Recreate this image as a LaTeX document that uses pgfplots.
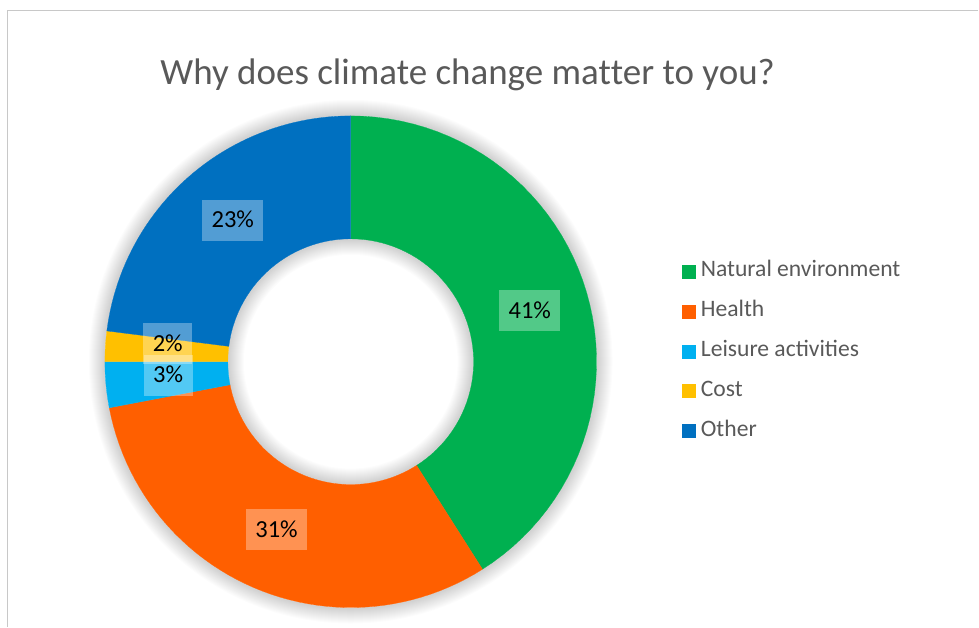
\documentclass[border=0pt]{standalone}
\usepackage{pgfplots}
\pgfplotsset{compat=1.18}
\usepackage{fontspec}
\setmainfont{Carlito}
\newcommand\nl{\kern0pt }
\definecolor{cgreen}{HTML}{00B050}
\definecolor{corange}{HTML}{FF5F00}
\definecolor{clblue}{HTML}{00B0F0}
\definecolor{cyellow}{HTML}{FFC000}
\definecolor{cblue}{HTML}{0070C0}
\definecolor{tgray}{HTML}{595959}
\definecolor{framegray}{HTML}{C8C8C8}

\def\cx{351}\def\cy{265}\def\Ro{246}\def\Ri{123}

% #1 = cumulative share before this slice (%), #2 = share (%), #3 = colour
\newcommand\donutslice[3]{%
 \addplot[fill=#3, draw=#3, line width=0.3pt, samples at={0,...,102}, variable=\t, forget plot]
 ({\cx+((\t<=50)||(\t==102) ? \Ro : \Ri)*cos(((\t<=50) ? 90-3.6*(#1+#2*\t/50) : ((\t==102) ? 90-3.6*#1 : 90-3.6*(#1+#2*(101-\t)/50))))},
  {\cy+((\t<=50)||(\t==102) ? \Ro : \Ri)*sin(((\t<=50) ? 90-3.6*(#1+#2*\t/50) : ((\t==102) ? 90-3.6*#1 : 90-3.6*(#1+#2*(101-\t)/50))))});
}
% #1 cumulative, #2 share, #3 dx, #4 dy
\newcommand\donutlabel[4]{%
 \node[fill=white, fill opacity=0.32, text opacity=1, inner xsep=9.5pt, inner ysep=0pt,
   minimum height=41pt, text height=15.5pt, text depth=0pt, font=\fontsize{24.5}{28}\selectfont]
   at (axis cs:{\cx+184.5*cos(90-3.6*(#1+#2/2))+#3},{\cy+184.5*sin(90-3.6*(#1+#2/2))+#4}) {#2\%};
}
\newcommand\legsq[1]{\addlegendimage{legend image code/.code={\fill[#1] (0pt,-6.5pt) rectangle (13pt,6.5pt);}}}

\begin{document}
\begin{tikzpicture}
\begin{axis}[
  width=979pt, height=627pt, scale only axis,
  xmin=0, xmax=979, ymin=0, ymax=627, enlargelimits=false,
  hide axis, clip=false,
  legend style={draw=none, fill=none, inner sep=0pt, outer sep=0pt,
    at={(axis cs:683,366)}, anchor=north west,
    font=\fontsize{23.6}{27}\selectfont, text=tgray,
    nodes={inner sep=0pt, text height=16pt, text depth=5pt},
    row sep=19pt,
    /tikz/every odd column/.style={column sep=5pt}},
  legend cell align=left,
]
\path (axis cs:0,0) rectangle (axis cs:979,627);
% frame
\draw[framegray, line width=1.5pt] (axis cs:7.5,0) -- (axis cs:7.5,616.5) -- (axis cs:979,616.5);
% soft shadow around the ring
\pgfplotsinvokeforeach{1,...,16}{%
  \fill[black, opacity=0.010, even odd rule] (axis cs:\cx,\cy) circle[radius={(\Ro+#1)*1pt}] circle[radius={\Ro*1pt}];
  \fill[black, opacity=0.010, even odd rule] (axis cs:\cx,\cy) circle[radius={\Ri*1pt}] circle[radius={(\Ri-#1)*1pt}];
}
% slices: Natural environment 41, Health 31, Leisure activities 3, Cost 2, Other 23
\donutslice{0}{41}{cgreen}
\donutslice{41}{31}{corange}
\donutslice{72}{3}{clblue}
\donutslice{75}{2}{cyellow}
\donutslice{77}{23}{cblue}

\legsq{cgreen}\addlegendentry{Natural environment}
\legsq{corange}\addlegendentry{Health}
\legsq{clblue}\addlegendentry{Leisure ac\nl ti\nl vi\nl ti\nl es}
\legsq{cyellow}\addlegendentry{Cost}
\legsq{cblue}\addlegendentry{Other}

\donutlabel{0}{41}{2}{0}
\donutlabel{41}{31}{-1}{1}
\donutlabel{72}{3}{1}{3.9}
\donutlabel{75}{2}{1}{6.4}
\donutlabel{77}{23}{4}{3.3}

\node[font=\fontsize{37}{44}\selectfont, text=tgray, anchor=base] at (axis cs:468,542) {Why does climate change mat\nl ter to you?};
\end{axis}
\end{tikzpicture}
\end{document}
